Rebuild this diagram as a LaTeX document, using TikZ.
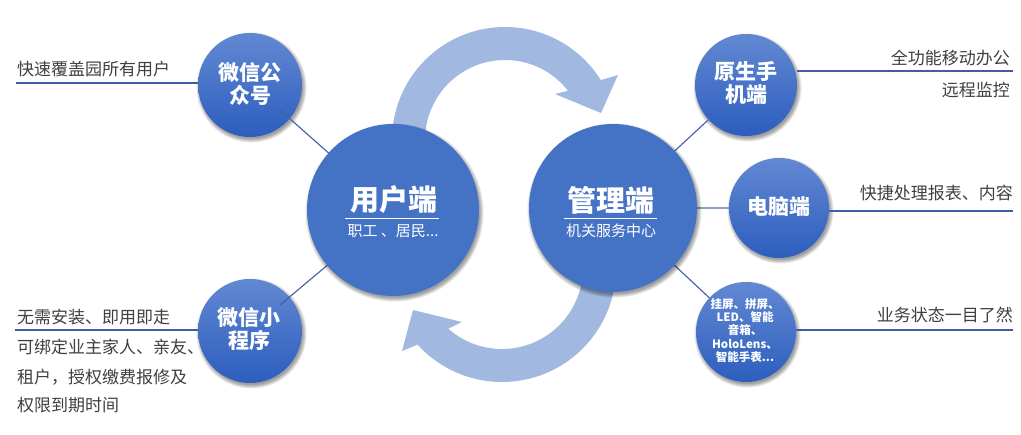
\documentclass[tikz,border=0pt]{standalone}
\usepackage{fontspec}
\setmainfont{Noto Sans CJK SC}
\definecolor{bigblue}{RGB}{68,114,196}
\definecolor{arrowblue}{RGB}{161,184,225}
\definecolor{linkblue}{RGB}{62,95,165}
\definecolor{paleline}{RGB}{140,160,200}
\definecolor{txtgray}{RGB}{64,64,64}
\definecolor{topblue}{RGB}{98,136,210}
\definecolor{botblue}{RGB}{44,94,190}
\newcommand\mysoftshadow[2]{%
  \foreach \k in {0,...,7}{%
    \fill[black, opacity=0.055] ($(#1)+(1.5,-2.5)$) circle[radius=#2+3.2-\k*0.6];
  }}
\usetikzlibrary{calc}
\begin{document}
\begin{tikzpicture}[x=1pt,y=1pt,
  bigc/.style={circle, fill=bigblue, minimum size=#1, inner sep=0pt},
  bigc/.default=170,
  smallc/.style={circle, top color=topblue, bottom color=botblue, minimum size=#1, inner sep=0pt},
  smallc/.default=102,
  lt/.style={font=\fontsize{17}{20}\selectfont, text=txtgray, inner sep=0pt},
  ctitle/.style={font=\fontsize{29}{32}\selectfont\bfseries, text=white, inner sep=0pt},
  csub/.style={font=\fontsize{15}{18}\selectfont, text=white, inner sep=0pt},
  slabel/.style={font=\fontsize{21}{23}\selectfont\bfseries, text=white, inner sep=0pt, align=center},
  tinylabel/.style={font=\fontsize{11.5}{13.3}\selectfont\bfseries, text=white, inner sep=0pt, align=center},
  link/.style={draw=linkblue, line width=1.1pt},
  paleLink/.style={draw=paleline, line width=1.6pt},
  uline/.style={draw=linkblue, line width=1.1pt},
  arrowshape/.style={fill=arrowblue}
]
\useasboundingbox (0,0) rectangle (1021,-435);
\fill[white] (0,0) rectangle (1021,-435);

% centres
\coordinate (yhC) at (393,-210);
\coordinate (glC) at (613,-208);
\coordinate (wxC) at (250,-85);
\coordinate (xcxC) at (250,-331);
\coordinate (sjC) at (746,-85);
\coordinate (pcC) at (779,-208);
\coordinate (gpC) at (746,-332);

% top curved arrow
\fill[arrowshape] (505,-140) ++(185:113) arc[start angle=185, end angle=32, radius=113]
  -- (618,-75) -- (601,-113) -- (555,-94) -- (568.04,-90.75)
  arc[start angle=38, end angle=185, radius=80] -- cycle;
% bottom curved arrow
\fill[arrowshape] (502,-268) ++(5:114) arc[start angle=5, end angle=-137.8, radius=114]
  -- (402,-351) -- (413,-310) -- (462,-322) -- (448.3,-328.7)
  arc[start angle=-131.5, end angle=5, radius=81] -- cycle;

% small circles
\mysoftshadow{wxC}{52}
\node[smallc=104] (wx) at (wxC) {};
\mysoftshadow{xcxC}{52}
\node[smallc=104] (xcx) at (xcxC) {};
\mysoftshadow{sjC}{51}
\node[smallc=102] (sj) at (sjC) {};
\mysoftshadow{pcC}{50}
\node[smallc=100] (pc) at (pcC) {};
\mysoftshadow{gpC}{50}
\node[smallc=100] (gp) at (gpC) {};

% connectors
\coordinate (wxEnd) at (280,-110);
\coordinate (xcxEnd) at (280,-305);
\draw[link] (yhC) -- (wxEnd);
\draw[link] (yhC) -- (xcxEnd);
\draw[link] (glC) -- (sj);
\draw[link] (glC) -- (gp);
\draw[paleLink] (glC) -- (pc);
% text underlines
\coordinate (l1a) at (16,-83);
\draw[uline] (l1a) -- (l1a -| wx.west);
\coordinate (l2a) at (15,-330);
\draw[uline] (l2a) -- (l2a -| xcx.west);
\coordinate (r1b) at (1013,-71);
\draw[uline] (sj.east |- r1b) -- (r1b);
\coordinate (r2b) at (1013,-211);
\draw[uline] (pc.east |- r2b) -- (r2b);
\coordinate (r3b) at (1013,-330);
\draw[uline] (gp.east |- r3b) -- (r3b);

% big circles
\mysoftshadow{yhC}{86}
\node[bigc=172] (yh) at (yhC) {};
\mysoftshadow{glC}{84}
\node[bigc=168] (gl) at (glC) {};

% circle labels
\node[ctitle] (yhT) at (394,-200) {用户端};
\node[csub] (yhS) at (393,-231) {职工 、居民...};
\draw[white, line width=1pt] (345,-218.5) -- (439,-218.5);
\node[ctitle] (glT) at (611,-200) {管理端};
\node[csub] (glS) at (611,-231) {机关服务中心};
\draw[white, line width=1pt] (564,-218.5) -- (657,-218.5);

\node[slabel] (wxT) at (250,-83.5) {微信公\\众号};
\node[slabel] (xcxT) at (249,-329) {微信小\\程序};
\node[slabel] (sjT) at (746,-83.5) {原生手\\机端};
\node[slabel] (pcT) at (779,-207) {电脑端};
\node[tinylabel] (gpT) at (745,-330.5) {挂屏、拼屏、\\LED、智能\\音箱、\\HoloLens、\\智能手表...};

% side texts
\node[lt, anchor=west] (t1) at (17,-69) {快速覆盖园所有用户};
\node[lt, anchor=west] (t2) at (17,-317) {无需安装、即用即走};
\node[lt, anchor=west] (t3) at (17,-347) {可绑定业主家人、亲友、};
\node[lt, anchor=west] (t4) at (17,-377) {租户，授权缴费报修及};
\node[lt, anchor=west] (t5) at (17,-405) {权限到期时间};
\node[lt, anchor=east] (r1) at (1010,-58) {全功能移动办公};
\node[lt, anchor=east] (r2) at (1010,-90) {远程监控};
\node[lt, anchor=east] (r3) at (1013,-193) {快捷处理报表、内容};
\node[lt, anchor=east] (r4) at (1013,-315) {业务状态一目了然};
\end{tikzpicture}
\end{document}
